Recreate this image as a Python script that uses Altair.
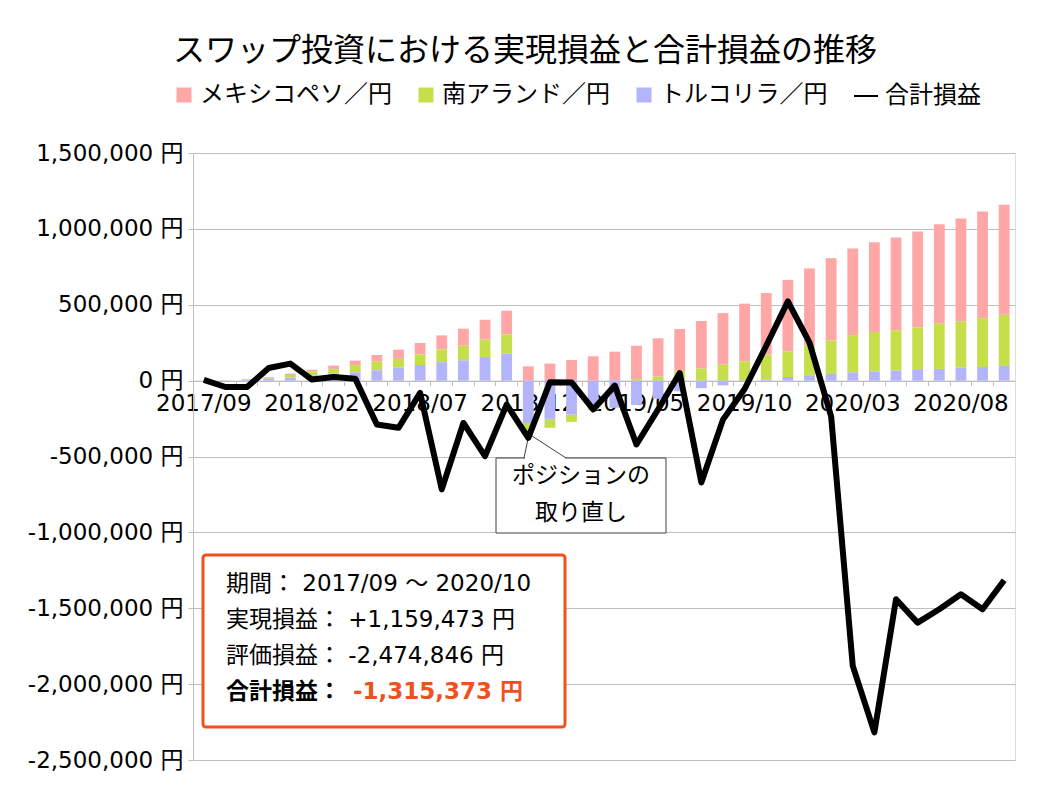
import altair as alt
import pandas as pd

# ---------------- data ----------------
months = ["2017/09", "2017/10", "2017/11", "2017/12", "2018/01", "2018/02", "2018/03",
          "2018/04", "2018/05", "2018/06", "2018/07", "2018/08", "2018/09", "2018/10",
          "2018/11", "2018/12", "2019/01", "2019/02", "2019/03", "2019/04", "2019/05",
          "2019/06", "2019/07", "2019/08", "2019/09", "2019/10", "2019/11", "2019/12",
          "2020/01", "2020/02", "2020/03", "2020/04", "2020/05", "2020/06", "2020/07",
          "2020/08", "2020/09", "2020/10"]

peso = [0, 1000, 2000, 5000, 9000, 13000, 22000, 29000, 44000, 61000, 75000, 92000,
        112000, 131000, 156000, 94000, 112000, 136000, 160000, 191000, 219000, 253000,
        279000, 314000, 340000, 380000, 406000, 471000, 509000, 542000, 570000, 592000,
        612000, 632000, 656000, 678000, 702000, 725473]
rand = [0, 1000, 5000, 6000, 17000, 24000, 31000, 48000, 57000, 57000, 70000, 85000,
        96000, 114000, 127000, -54000, -59000, -48000, -10000, -5000, 11000, 26000,
        61000, 79000, 105000, 127000, 164000, 169000, 195000, 221000, 245000, 259000,
        265000, 281000, 298000, 304000, 322000, 337000]
lira = [0, 1000, 4000, 13000, 20000, 35000, 46000, 55000, 68000, 86000, 103000, 121000,
        134000, 156000, 178000, -279000, -252000, -224000, -185000, -175000, -160000,
        -120000, -70000, -50000, -31000, -5000, 7000, 24000, 35000, 44000, 55000, 61000,
        66000, 70000, 77000, 86000, 90000, 97000]
total = [5000, -42000, -42000, 83000, 112000, 7000, 24000, 13000, -289000, -311000,
         -81000, -717000, -279000, -498000, -158000, -377000, -10000, -12000, -190000,
         -33000, -421000, -190000, 50000, -671000, -257000, -55000, 230000, 522000,
         250000, -235000, -1880000, -2318000, -1441000, -1595000, -1507000, -1408000,
         -1507000, -1315373]

series_names = ["メキシコペソ／円", "南アランド／円", "トルコリラ／円"]
series_colors = ["#FFA6A6", "#C4DF4A", "#B4B4FA"]
stack_rank = [2, 1, 0]          # lira at the bottom, peso on top
line_name = "合計損益"
x_label_values = ["2017/09", "2018/02", "2018/07", "2018/12", "2019/05", "2019/10",
                  "2020/03", "2020/08"]
y_ticks = [-2500000, -2000000, -1500000, -1000000, -500000, 0, 500000, 1000000, 1500000]

title_text = "スワップ投資における実現損益と合計損益の推移"
box_lines = ["期間：  2017/09 ～ 2020/10", "実現損益：  +1,159,473 円", "評価損益：  -2,474,846 円"]
box_total_label = "合計損益："
box_total_value = "-1,315,373 円"
callout_lines = ["ポジションの", "取り直し"]

# ---------------- tables ----------------
rows = []
for i, m in enumerate(months):
    for name, vals, r in zip(series_names, [peso, rand, lira], stack_rank):
        rows.append({"month": m, "series": name, "value": vals[i], "rank": r})
bar_df = pd.DataFrame(rows)
line_df = pd.DataFrame({"month": months, "total": total, "kind": line_name})
one = pd.DataFrame({"k": [0]})

# ---------------- style ----------------
W, H = 822, 607
YMIN, YMAX = -2500000, 1500000
zero_offset = -H * (0 - YMIN) / (YMAX - YMIN)
GRID = "#BFBFBF"
ORANGE = "#F0501E"
FONT_LAT = "DejaVu Sans, Noto Sans CJK JP"
FONT_JP = "Noto Sans CJK JP"

x_scale = alt.Scale(paddingInner=0, paddingOuter=0)
y_scale = alt.Scale(domain=[YMIN, YMAX], nice=False, zero=False)

bars = alt.Chart(bar_df).mark_bar(width=alt.RelativeBandSize(band=0.5)).encode(
    x=alt.X("month:N", sort=months, scale=x_scale, title=None,
            axis=alt.Axis(orient="bottom", offset=zero_offset, labels=False, ticks=True,
                          tickSize=5, tickColor=GRID, bandPosition=0, domain=True,
                          domainColor=GRID, grid=False)),
    y=alt.Y("value:Q", stack="zero", scale=y_scale, title=None,
            axis=alt.Axis(values=y_ticks,
                          labelExpr="replace(format(datum.value, ','), '\u2212', '-') + ' 円'",
                          labelFont=FONT_LAT, labelFontSize=23, labelColor="black",
                          labelPadding=5, tickSize=5, tickColor=GRID, domainColor=GRID,
                          gridColor=GRID, grid=True)),
    color=alt.Color("series:N", scale=alt.Scale(domain=series_names, range=series_colors),
                    legend=alt.Legend(orient="none", legendX=-21, legendY=-70,
                                      direction="horizontal", title=None,
                                      symbolType="square", symbolSize=225,
                                      symbolStrokeWidth=0, labelFont=FONT_JP,
                                      labelFontSize=24, labelColor="black", labelOffset=4,
                                      columnPadding=22, labelLimit=400)),
    order=alt.Order("rank:Q", sort="ascending"),
)

line = alt.Chart(line_df).mark_line(strokeWidth=6, strokeJoin="round").encode(
    x=alt.X("month:N", sort=months, scale=x_scale, title=None,
            axis=alt.Axis(orient="bottom", offset=zero_offset, values=x_label_values,
                          labels=True, ticks=False, domain=False, grid=False,
                          labelFont=FONT_LAT, labelFontSize=23, labelColor="black",
                          labelPadding=12, labelAngle=0, labelOverlap=False)),
    y=alt.Y("total:Q", scale=y_scale, title=None),
    stroke=alt.Stroke("kind:N", scale=alt.Scale(domain=[line_name], range=["black"]),
                      legend=alt.Legend(orient="none", legendX=660, legendY=-70,
                                        title=None, symbolType="stroke", symbolSize=576,
                                        symbolStrokeWidth=2, labelFont=FONT_JP,
                                        labelFontSize=24, labelColor="black",
                                        labelOffset=6)),
)

# ---------------- annotations ----------------
box = alt.Chart(one).mark_rect(fill="white", stroke=ORANGE, strokeWidth=3,
                               cornerRadius=3).encode(
    x=alt.value(10), x2=alt.value(372), y=alt.value(402), y2=alt.value(574))

box_texts = [
    alt.Chart(one).mark_text(align="left", baseline="middle", font=FONT_LAT,
                             fontSize=23, color="black").encode(
        x=alt.value(33), y=alt.value(431 + 36 * i), text=alt.value(t))
    for i, t in enumerate(box_lines)
]
box_total_l = alt.Chart(one).mark_text(align="left", baseline="middle", font=FONT_LAT,
                                       fontSize=23, fontWeight="bold", color="black").encode(
    x=alt.value(33), y=alt.value(539), text=alt.value(box_total_label))
box_total_v = alt.Chart(one).mark_text(align="left", baseline="middle", font=FONT_LAT,
                                       fontSize=23, fontWeight="bold", color=ORANGE).encode(
    x=alt.value(160), y=alt.value(539), text=alt.value(box_total_value))

callout = alt.Chart(one).mark_rect(fill="white", stroke="#404040", strokeWidth=1).encode(
    x=alt.value(303), x2=alt.value(473), y=alt.value(305), y2=alt.value(380))
callout_gap = alt.Chart(one).mark_rule(stroke="white", strokeWidth=2).encode(
    x=alt.value(332), x2=alt.value(372), y=alt.value(305), y2=alt.value(305))
wedge_l = alt.Chart(one).mark_rule(stroke="#404040", strokeWidth=1).encode(
    x=alt.value(331), x2=alt.value(336), y=alt.value(305), y2=alt.value(281))
wedge_r = alt.Chart(one).mark_rule(stroke="#404040", strokeWidth=1).encode(
    x=alt.value(373), x2=alt.value(336), y=alt.value(305), y2=alt.value(281))
callout_texts = [
    alt.Chart(one).mark_text(align="center", baseline="middle", font=FONT_JP,
                             fontSize=23, color="black").encode(
        x=alt.value(388), y=alt.value(323 + 37 * i), text=alt.value(t))
    for i, t in enumerate(callout_lines)
]

chart = alt.layer(
    bars, box, *box_texts, box_total_l, box_total_v,
    callout, callout_gap, wedge_l, wedge_r, *callout_texts, line,
).resolve_axis(x="independent").properties(
    width=W, height=H,
    autosize=alt.AutoSizeParams(type="none"),
    padding={"left": 185, "top": 145, "right": 35, "bottom": 26},
    title=alt.TitleParams(title_text, font=FONT_JP, fontSize=32, fontWeight="normal",
                          color="black", anchor="middle", frame="group", dx=-79,
                          offset=15),
).configure_view(stroke=GRID, strokeWidth=1).configure(background="white")

chart.save("out.html", embed_options={"renderer": "svg", "actions": False})
